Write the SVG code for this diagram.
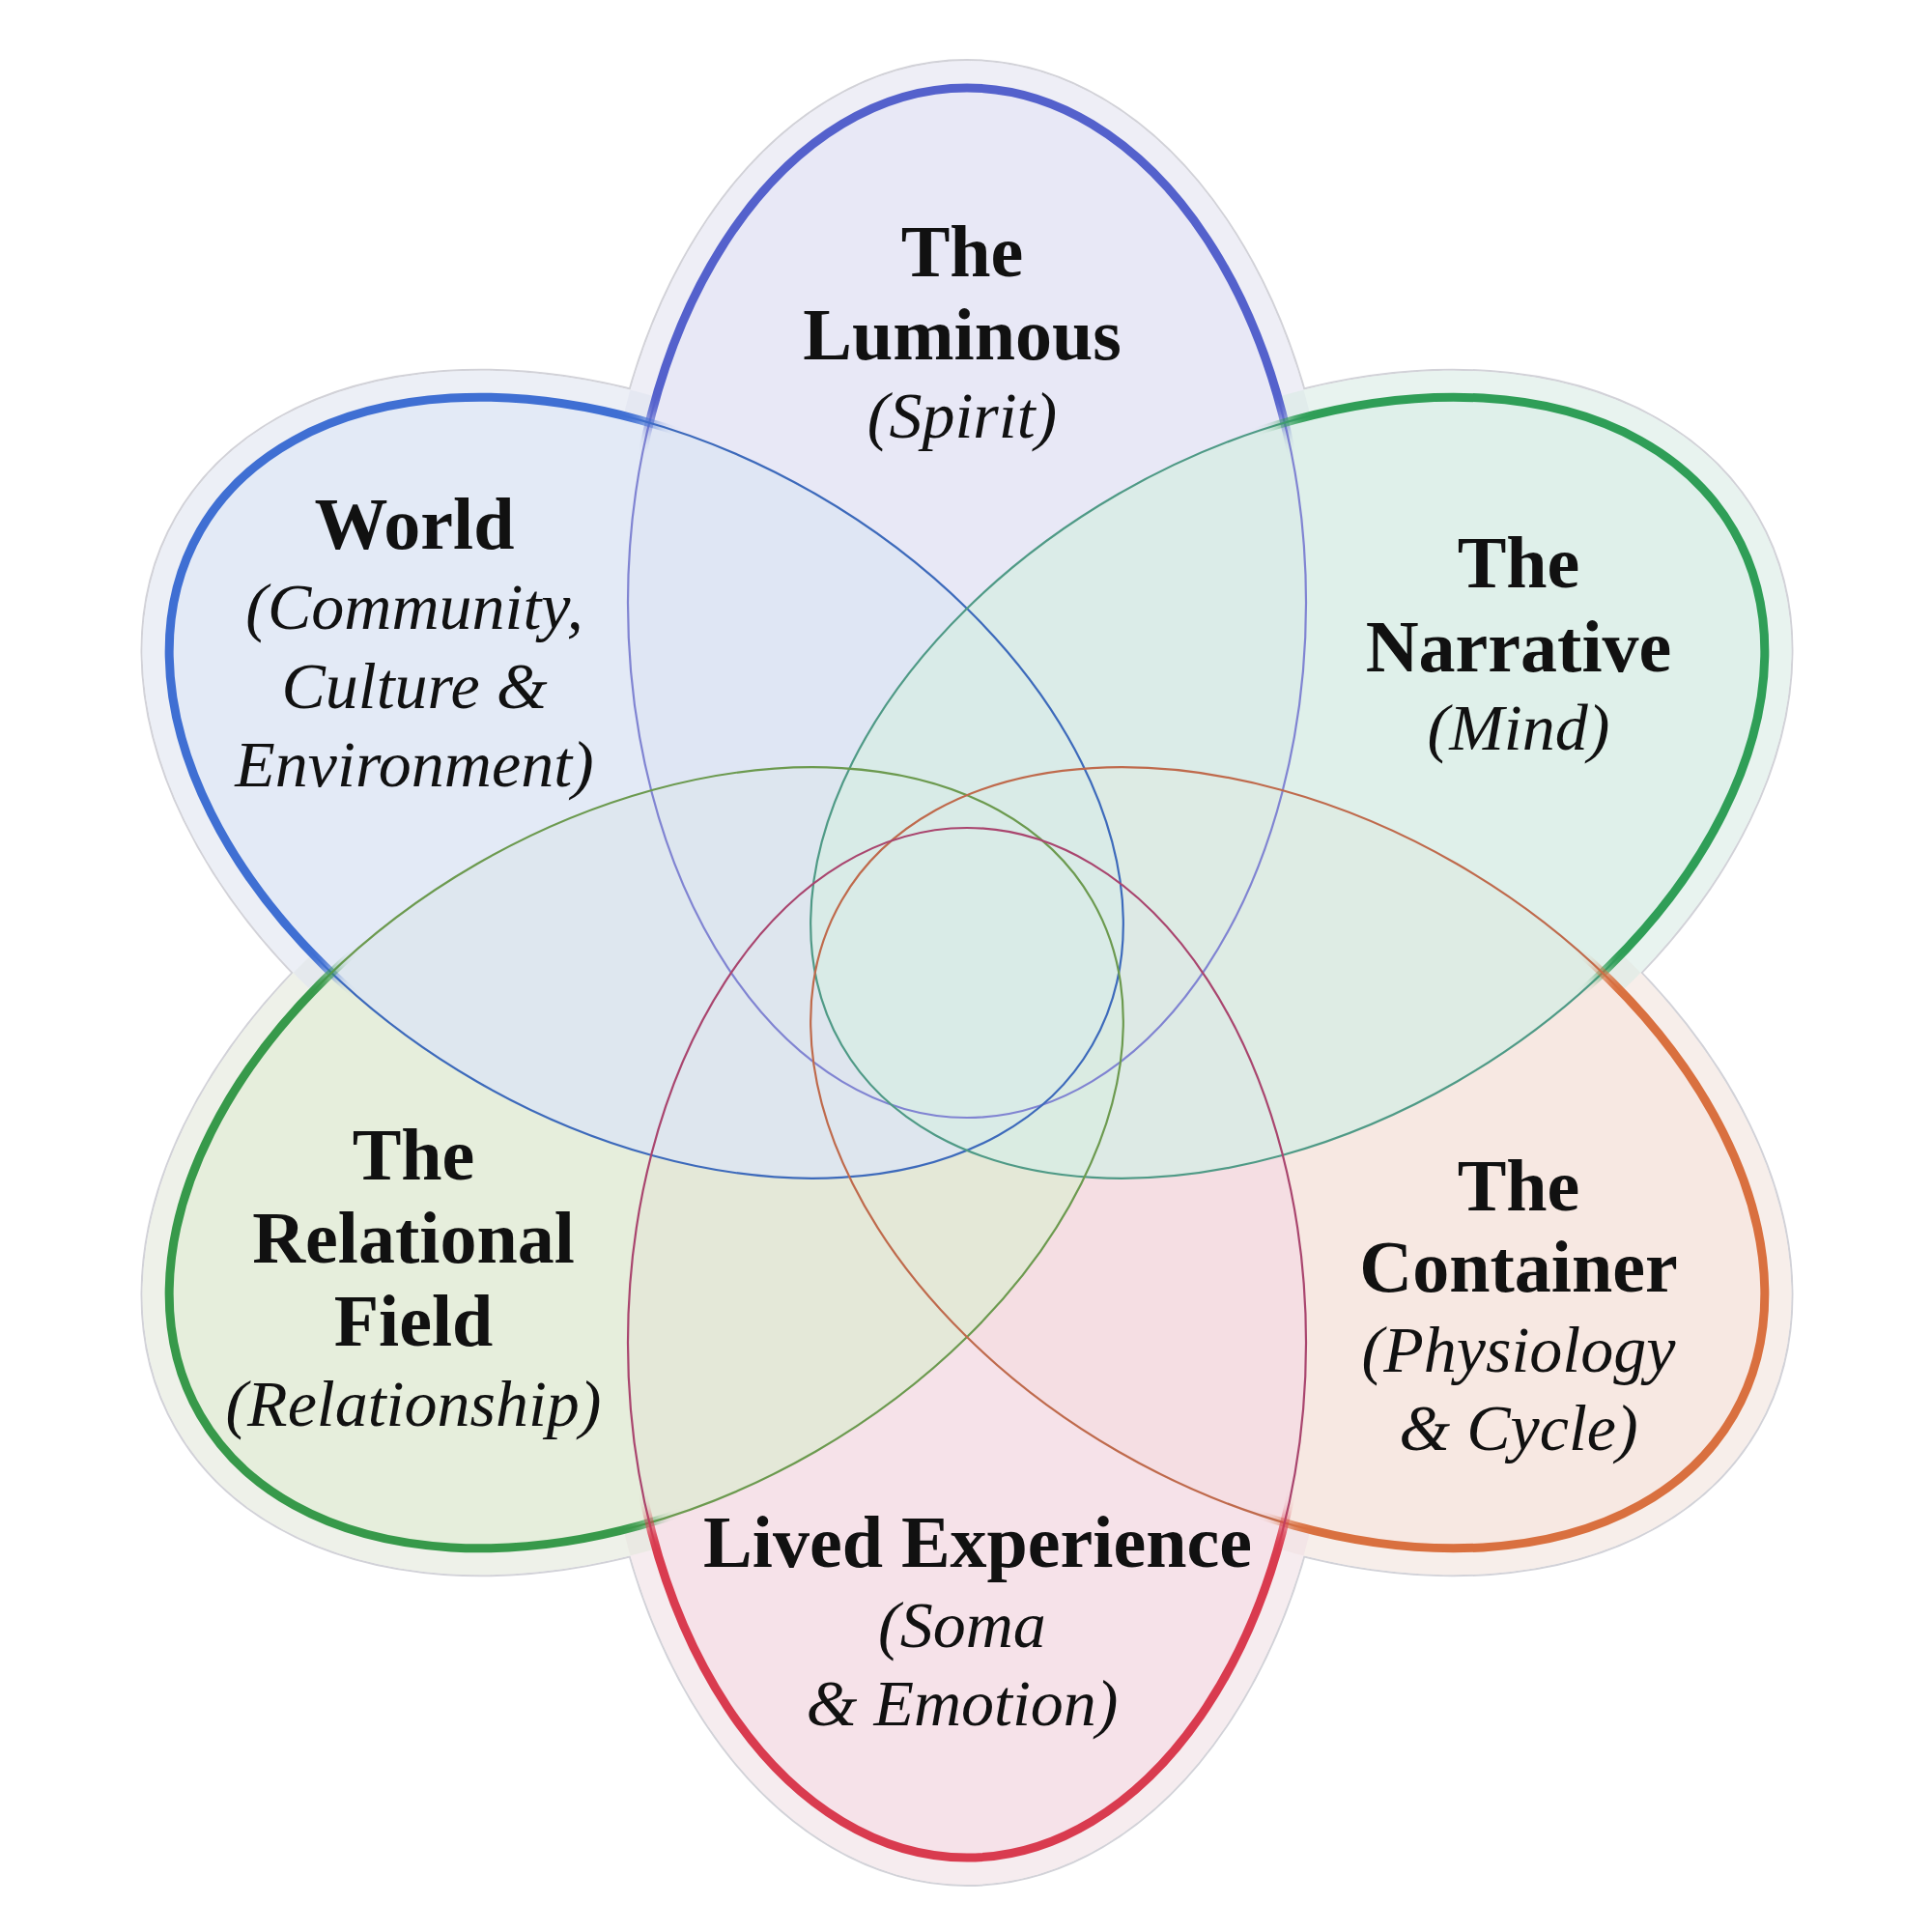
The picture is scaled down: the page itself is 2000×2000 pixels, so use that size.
<svg xmlns="http://www.w3.org/2000/svg" xmlns:xlink="http://www.w3.org/1999/xlink" width="2000" height="2000" viewBox="0 0 2000 2000">
<style>
  .t { font-family: "Liberation Serif", "Times New Roman", serif; font-weight: bold; font-size: 76px; fill: #111111; text-anchor: middle; }
  .s { font-family: "Liberation Serif", "Times New Roman", serif; font-style: italic; font-size: 68px; fill: #111111; text-anchor: middle; }
  .thin { fill: none; stroke-width: 2.2; }
  .thick { fill: none; stroke-width: 9; stroke-linecap: round; }
</style>
<defs>
  <ellipse id="eL" cx="1001" cy="624" rx="351" ry="533"/>
  <ellipse id="eE" cx="1001" cy="1390" rx="351" ry="533"/>
  <ellipse id="eW" cx="0" cy="0" rx="533" ry="351" transform="translate(669 815.5) rotate(30)"/>
  <ellipse id="eC" cx="0" cy="0" rx="533" ry="351" transform="translate(1333 1198.5) rotate(30)"/>
  <ellipse id="eN" cx="0" cy="0" rx="533" ry="351" transform="translate(1333 815.5) rotate(-30)"/>
  <ellipse id="eR" cx="0" cy="0" rx="533" ry="351" transform="translate(669 1198.5) rotate(-30)"/>
  <ellipse id="oL" cx="1001" cy="624" rx="379" ry="561"/>
  <ellipse id="oE" cx="1001" cy="1390" rx="379" ry="561"/>
  <ellipse id="oW" cx="0" cy="0" rx="561" ry="379" transform="translate(669 815.5) rotate(30)"/>
  <ellipse id="oC" cx="0" cy="0" rx="561" ry="379" transform="translate(1333 1198.5) rotate(30)"/>
  <ellipse id="oN" cx="0" cy="0" rx="561" ry="379" transform="translate(1333 815.5) rotate(-30)"/>
  <ellipse id="oR" cx="0" cy="0" rx="561" ry="379" transform="translate(669 1198.5) rotate(-30)"/>
  <filter id="soft" x="-20%" y="-20%" width="140%" height="140%">
    <feGaussianBlur stdDeviation="14"/>
  </filter>
  <mask id="mInner" maskUnits="userSpaceOnUse" x="0" y="0" width="2000" height="2000">
    <rect width="2000" height="2000" fill="#fff"/>
    <g fill="#000"><use xlink:href="#eL"/><use xlink:href="#eE"/><use xlink:href="#eW"/><use xlink:href="#eC"/><use xlink:href="#eN"/><use xlink:href="#eR"/></g>
  </mask>
  <mask id="mL" maskUnits="userSpaceOnUse" x="0" y="0" width="2000" height="2000">
    <rect width="2000" height="2000" fill="#fff"/>
    <g fill="#000" filter="url(#soft)"><use xlink:href="#eE"/><use xlink:href="#eW"/><use xlink:href="#eC"/><use xlink:href="#eN"/><use xlink:href="#eR"/></g>
  </mask>
  <mask id="mE" maskUnits="userSpaceOnUse" x="0" y="0" width="2000" height="2000">
    <rect width="2000" height="2000" fill="#fff"/>
    <g fill="#000" filter="url(#soft)"><use xlink:href="#eL"/><use xlink:href="#eW"/><use xlink:href="#eC"/><use xlink:href="#eN"/><use xlink:href="#eR"/></g>
  </mask>
  <mask id="mW" maskUnits="userSpaceOnUse" x="0" y="0" width="2000" height="2000">
    <rect width="2000" height="2000" fill="#fff"/>
    <g fill="#000" filter="url(#soft)"><use xlink:href="#eL"/><use xlink:href="#eE"/><use xlink:href="#eC"/><use xlink:href="#eN"/><use xlink:href="#eR"/></g>
  </mask>
  <mask id="mC" maskUnits="userSpaceOnUse" x="0" y="0" width="2000" height="2000">
    <rect width="2000" height="2000" fill="#fff"/>
    <g fill="#000" filter="url(#soft)"><use xlink:href="#eL"/><use xlink:href="#eE"/><use xlink:href="#eW"/><use xlink:href="#eN"/><use xlink:href="#eR"/></g>
  </mask>
  <mask id="mN" maskUnits="userSpaceOnUse" x="0" y="0" width="2000" height="2000">
    <rect width="2000" height="2000" fill="#fff"/>
    <g fill="#000" filter="url(#soft)"><use xlink:href="#eL"/><use xlink:href="#eE"/><use xlink:href="#eW"/><use xlink:href="#eC"/><use xlink:href="#eR"/></g>
  </mask>
  <mask id="mR" maskUnits="userSpaceOnUse" x="0" y="0" width="2000" height="2000">
    <rect width="2000" height="2000" fill="#fff"/>
    <g fill="#000" filter="url(#soft)"><use xlink:href="#eL"/><use xlink:href="#eE"/><use xlink:href="#eW"/><use xlink:href="#eC"/><use xlink:href="#eN"/></g>
  </mask>
</defs>
<rect width="2000" height="2000" fill="#ffffff"/>

<g id="halo">
  <g fill="none" stroke="#d2d2d8" stroke-width="4">
    <use xlink:href="#oL"/><use xlink:href="#oE"/><use xlink:href="#oW"/><use xlink:href="#oC"/><use xlink:href="#oN"/><use xlink:href="#oR"/>
  </g>
  <g fill="#ffffff">
    <use xlink:href="#oL"/><use xlink:href="#oE"/><use xlink:href="#oW"/><use xlink:href="#oC"/><use xlink:href="#oN"/><use xlink:href="#oR"/>
  </g>
  <g fill-opacity="0.6" mask="url(#mInner)">
    <use xlink:href="#oL" fill="#e2e2f0"/>
    <use xlink:href="#oC" fill="#f1e2dc"/>
    <use xlink:href="#oE" fill="#f0dfe4"/>
    <use xlink:href="#oR" fill="#e2e8da"/>
    <use xlink:href="#oW" fill="#dfe5f0"/>
    <use xlink:href="#oN" fill="#d9ebe4"/>
  </g>
</g>

<g id="petal-fills" fill-opacity="0.8">
  <use xlink:href="#eL" fill="#e2e2f4"/>
  <use xlink:href="#eC" fill="#f5e2db"/>
  <use xlink:href="#eE" fill="#f4dbe4"/>
  <use xlink:href="#eR" fill="#e0ead3"/>
  <use xlink:href="#eW" fill="#dce5f4"/>
  <use xlink:href="#eN" fill="#d7ece5"/>
</g>

<g id="node-luminous">
  <use xlink:href="#eL" class="thin" stroke="#8084d2"/>
  <use xlink:href="#eL" class="thick" stroke="#5461cc" mask="url(#mL)"/>
  <text class="t" x="996" y="286">The</text>
  <text class="t" x="996" y="372">Luminous</text>
  <text class="s" x="996" y="453">(Spirit)</text>
</g>

<g id="node-world">
  <use xlink:href="#eW" class="thin" stroke="#3d6abb" stroke-width="2.6"/>
  <use xlink:href="#eW" class="thick" stroke="#3f6fd3" mask="url(#mW)"/>
  <text class="t" x="429" y="568">World</text>
  <text class="s" x="429" y="651">(Community,</text>
  <text class="s" x="429" y="733">Culture &amp;</text>
  <text class="s" x="429" y="814">Environment)</text>
</g>

<g id="node-narrative">
  <use xlink:href="#eN" class="thin" stroke="#4f9a86"/>
  <use xlink:href="#eN" class="thick" stroke="#2f9e57" mask="url(#mN)"/>
  <text class="t" x="1572" y="608">The</text>
  <text class="t" x="1572" y="695">Narrative</text>
  <text class="s" x="1572" y="776">(Mind)</text>
</g>

<g id="node-relational">
  <use xlink:href="#eR" class="thin" stroke="#6c9a4f"/>
  <use xlink:href="#eR" class="thick" stroke="#37994a" mask="url(#mR)"/>
  <text class="t" x="428" y="1221">The</text>
  <text class="t" x="428" y="1307">Relational</text>
  <text class="t" x="428" y="1393">Field</text>
  <text class="s" x="428" y="1476">(Relationship)</text>
</g>

<g id="node-container">
  <use xlink:href="#eC" class="thin" stroke="#bf6a4c"/>
  <use xlink:href="#eC" class="thick" stroke="#d9703f" mask="url(#mC)"/>
  <text class="t" x="1572" y="1253">The</text>
  <text class="t" x="1572" y="1337">Container</text>
  <text class="s" x="1572" y="1420">(Physiology</text>
  <text class="s" x="1572" y="1501">&amp; Cycle)</text>
</g>

<g id="node-lived">
  <use xlink:href="#eE" class="thin" stroke="#a9456e"/>
  <use xlink:href="#eE" class="thick" stroke="#d93b4f" mask="url(#mE)"/>
  <text class="t" x="1012" y="1622">Lived Experience</text>
  <text class="s" x="996" y="1705">(Soma</text>
  <text class="s" x="996" y="1786">&amp; Emotion)</text>
</g>

<g id="connectors"></g>
</svg>
